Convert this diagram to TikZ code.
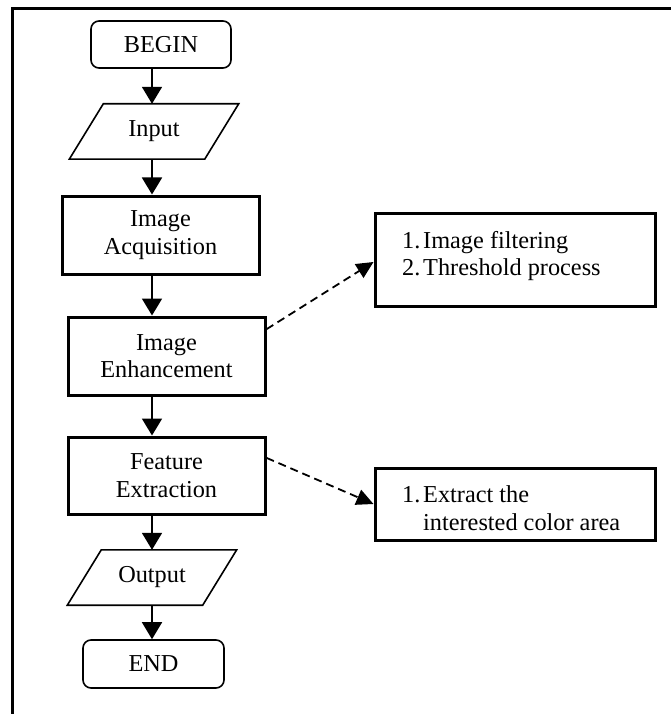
\documentclass[tikz,border=0pt]{standalone}
\usepackage{fontspec}
\setmainfont{Liberation Serif}
\usetikzlibrary{arrows.meta}
\begin{document}
\begin{tikzpicture}[x=1pt, y=-1pt,
  txt/.style={font=\fontsize{24.3}{27.5}\selectfont},
  terminal/.style={draw, line width=1.6pt, rounded corners=8pt, txt, inner sep=0pt},
  process/.style={draw, line width=3pt, txt, align=center, inner sep=0pt, minimum width=197pt},
  iobox/.style={txt, inner sep=0pt, minimum width=135pt, minimum height=55pt},
  iopath/.style={line width=1.6pt, line join=miter},
  notebox/.style={draw, line width=3pt, minimum width=280pt, inner sep=0pt},
  notetext/.style={txt, anchor=base west, inner sep=0pt},
  flow/.style={line width=1.8pt, -{Triangle[width=20pt,length=17pt]}},
  link/.style={line width=1.8pt, dash pattern=on 8pt off 5pt, -{Triangle[width=16pt,length=17pt]}},
  frame/.style={line width=3pt, line cap=butt},
]
\useasboundingbox (0,0) rectangle (671,714);

% outer frame (open to the right and bottom)
\draw[frame] (12,714) -- (12,9) -- (671,9);

% main flow
\node[terminal, minimum width=140pt, minimum height=47pt] (begin) at (161,44.5) {BEGIN};
\node[iobox] (input) at (154,131.5) {Input};
\node[process, minimum height=78pt] (acq) at (160.5,235) {Image\\Acquisition};
\node[process, minimum height=78pt] (enh) at (166.5,356) {Image\\Enhancement};
\node[process, minimum height=77pt] (feat) at (166.5,475.5) {Feature\\Extraction};
\node[iobox] (output) at (152,577.5) {Output};
\node[terminal, minimum width=141pt, minimum height=48pt] (stop) at (153.5,664) {END};

% input/output parallelograms
\foreach \n in {input,output}
  \draw[iopath] ([xshift=17pt]\n.north west) -- ([xshift=17pt]\n.north east)
    -- ([xshift=-17pt]\n.south east) -- ([xshift=-17pt]\n.south west) -- cycle;

% vertical connectors share one axis
\coordinate (spine) at (152,0);
\draw[flow] (spine |- begin.south) -- (spine |- input.north);
\draw[flow] (spine |- input.south) -- (spine |- acq.north);
\draw[flow] (spine |- acq.south) -- (spine |- enh.north);
\draw[flow] (spine |- enh.south) -- (spine |- feat.north);
\draw[flow] (spine |- feat.south) -- (spine |- output.north);
\draw[flow] (spine |- output.south) -- (spine |- stop.north);

% side notes
\node[notebox, minimum height=93pt] (note1) at (515,259.5) {};
\node[notetext] (note1a) at (402,248) {\makebox[21pt][l]{1.}Image filtering};
\node[notetext] (note1b) at (402,275) {\makebox[21pt][l]{2.}Threshold process};

\node[notebox, minimum height=72pt] (note2) at (515,504) {};
\node[notetext] (note2a) at (402,502) {\makebox[21pt][l]{1.}Extract the};
\node[notetext] (note2b) at (402,530) {\hspace*{21pt}interested color area};

\draw[link] (enh.15) -- ([yshift=-2.5pt]note1.west);
\draw[link] (feat.10) -- (note2.west);
\end{tikzpicture}
\end{document}
